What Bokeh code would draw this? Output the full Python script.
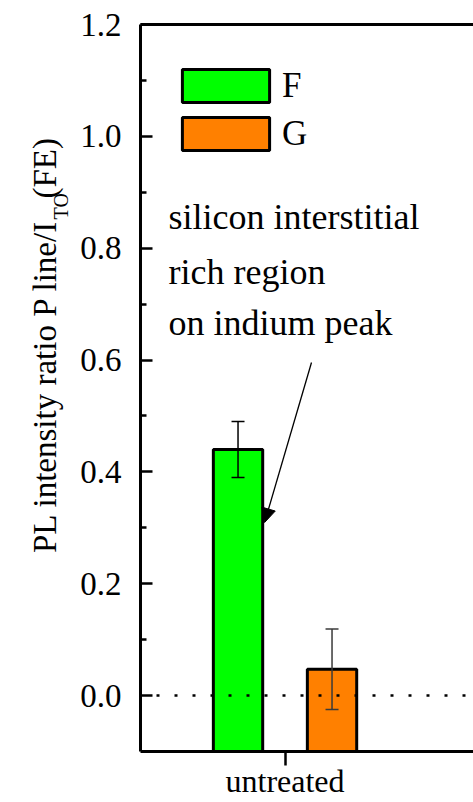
import math
from bokeh.plotting import figure
from bokeh.layouts import row
from bokeh.core.properties import value
from bokeh.models import (Range1d, FixedTicker, LinearAxis, Span, Whisker, TeeHead,
                          Arrow, NormalHead, Legend, LegendItem,
                          ColumnDataSource, PrintfTickFormatter)
from bokeh.embed import file_html
from bokeh.resources import INLINE

# ---- data ---------------------------------------------------------------
categories = ["untreated"]
series_names = ["F", "G"]
f_values = [0.44]
f_errors = [0.05]
g_values = [0.047]
g_errors = [0.072]
y_ticks = [0.0, 0.2, 0.4, 0.6, 0.8, 1.0, 1.2]
y_minor = [0.1, 0.3, 0.5, 0.7, 0.9, 1.1]
note_lines = ["silicon interstitial", "rich region", "on indium peak"]
y_title_parts = ["PL intensity ratio P line/I", "TO", "(FE)"]

# ---- layout -------------------------------------------------------------
FONT = "Liberation Serif, serif"
W, H = 473, 802
TITLE_W = 72
BORDER_LEFT, BORDER_TOP, BORDER_BOTTOM = 140, 24, 51
Y0, Y1 = -0.1, 1.2
X0, X1 = 0.385, 1.802
FRAME_W = W - BORDER_LEFT
FRAME_H = H - BORDER_TOP - BORDER_BOTTOM

cat_pos = [float(i + 1) for i in range(len(categories))]
offset = 0.2
bar_w = 0.21

p = figure(width=W - TITLE_W, height=H, output_backend="svg", toolbar_location=None,
           x_range=Range1d(X0, X1), y_range=Range1d(Y0, Y1),
           min_border_left=BORDER_LEFT - TITLE_W, min_border_right=0,
           min_border_top=BORDER_TOP, min_border_bottom=BORDER_BOTTOM,
           x_axis_location=None, y_axis_location=None)
p.outline_line_color = None
p.background_fill_color = "white"
p.border_fill_color = "white"
for g in p.grid:
    g.visible = False


def data_x(px):
    """canvas x pixel -> data x"""
    return X0 + (px - BORDER_LEFT) * (X1 - X0) / FRAME_W


def data_y(py):
    """canvas y pixel -> data y"""
    return Y0 + (H - BORDER_BOTTOM - py) * (Y1 - Y0) / FRAME_H


def fx(px):
    return px - BORDER_LEFT


def fy(py):
    return (H - BORDER_BOTTOM) - py


# ---- axes ---------------------------------------------------------------
yaxis = LinearAxis(ticker=FixedTicker(ticks=y_ticks, minor_ticks=y_minor),
                   formatter=PrintfTickFormatter(format="%.1f"))
yaxis.axis_line_width = 3
yaxis.major_tick_line_width = 2.5
yaxis.minor_tick_line_width = 2.5
yaxis.major_tick_in = 12
yaxis.major_tick_out = 0
yaxis.minor_tick_in = 6
yaxis.minor_tick_out = 0
yaxis.major_label_standoff = 19
yaxis.major_label_text_font = FONT
yaxis.major_label_text_font_size = "33px"
yaxis.major_label_text_color = "black"
p.add_layout(yaxis, "left")

xaxis = LinearAxis(ticker=FixedTicker(ticks=cat_pos, minor_ticks=[]),
                   major_label_overrides={c: n for c, n in zip(cat_pos, categories)})
xaxis.axis_line_width = 3
xaxis.major_tick_line_width = 2.5
xaxis.major_tick_in = 0
xaxis.major_tick_out = 14
xaxis.minor_tick_line_color = None
xaxis.major_label_standoff = -3
xaxis.major_label_text_font = FONT
xaxis.major_label_text_font_size = "32px"
xaxis.major_label_text_color = "black"
p.add_layout(xaxis, "below")

top_axis = LinearAxis(ticker=FixedTicker(ticks=[], minor_ticks=[]))
top_axis.axis_line_width = 3
top_axis.major_tick_line_color = None
top_axis.minor_tick_line_color = None
top_axis.major_label_text_font_size = "0px"
p.add_layout(top_axis, "above")

# ---- bars ---------------------------------------------------------------
f_src = ColumnDataSource(dict(
    x=[c - offset for c in cat_pos], top=f_values,
    upper=[v + e for v, e in zip(f_values, f_errors)],
    lower=[v - e for v, e in zip(f_values, f_errors)]))
g_src = ColumnDataSource(dict(
    x=[c + offset for c in cat_pos], top=g_values,
    upper=[v + e for v, e in zip(g_values, g_errors)],
    lower=[v - e for v, e in zip(g_values, g_errors)]))

f_bar = p.vbar(x="x", top="top", bottom=Y0, width=bar_w, source=f_src,
               fill_color="#00FF00", line_color="black", line_width=3)
g_bar = p.vbar(x="x", top="top", bottom=Y0, width=bar_w, source=g_src,
               fill_color="#FF8000", line_color="black", line_width=3)

# zero reference line
p.add_layout(Span(location=0, dimension="width", line_color="black",
                  line_width=2.5, line_dash="3 15", line_dash_offset=2))

# error bars
for src, col in ((f_src, "black"), (g_src, "#3a3a3a")):
    p.add_layout(Whisker(
        source=src, base="x", upper="upper", lower="lower",
        line_color=col, line_width=1.5, level="overlay",
        upper_head=TeeHead(size=13, line_color=col, line_width=1.5),
        lower_head=TeeHead(size=13, line_color=col, line_width=1.5)))

# ---- legend (glyph boxes are drawn inset by 10 %) ----------------------
legend = Legend(items=[LegendItem(label=series_names[0], renderers=[f_bar]),
                       LegendItem(label=series_names[1], renderers=[g_bar])],
                location=(fx(171), fy(154)))
legend.glyph_width = 109
legend.glyph_height = 41
legend.label_text_font = FONT
legend.label_text_font_size = "35px"
legend.label_text_color = "black"
legend.label_standoff = 2
legend.label_height = 41
legend.spacing = 7
legend.padding = 0
legend.margin = 0
legend.border_line_color = None
legend.background_fill_alpha = 0
p.add_layout(legend, "center")

# ---- annotation text and arrow -----------------------------------------
NOTE_SIZE = 36
note_src = ColumnDataSource(dict(
    x=[data_x(168)] * len(note_lines),
    y=[data_y(b - 0.34 * NOTE_SIZE) for b in (229, 284, 335)],
    text=note_lines))
p.text(x="x", y="y", text="text", source=note_src, text_font=value(FONT),
       text_font_size=f"{NOTE_SIZE}px", text_color="black",
       text_align="left", text_baseline="alphabetic")

p.add_layout(Arrow(
    end=NormalHead(size=14, fill_color="black", line_color="black", line_width=1),
    x_start=data_x(311), y_start=data_y(362),
    x_end=cat_pos[0] - offset + bar_w / 2 + 0.008, y_end=data_y(522),
    line_color="black", line_width=1.3))

# ---- y-axis title (separate strip so the subscript can be placed) ------
t = figure(width=TITLE_W, height=H, output_backend="svg", toolbar_location=None,
           x_range=Range1d(0, TITLE_W), y_range=Range1d(H, 0),
           min_border=0, x_axis_location=None, y_axis_location=None)
t.outline_line_color = None
t.border_fill_color = "white"
t.background_fill_color = "white"
for g in t.grid:
    g.visible = False

MAIN_SIZE, SUB_SIZE = 33, 20
title_src = ColumnDataSource(dict(
    x=[56 - 0.34 * MAIN_SIZE, 67 - 0.34 * SUB_SIZE, 56 - 0.34 * MAIN_SIZE],
    y=[215, 215, 192],
    text=y_title_parts,
    size=[f"{MAIN_SIZE}px", f"{SUB_SIZE}px", f"{MAIN_SIZE}px"],
    align=["right", "left", "left"]))
t.text(x="x", y="y", text="text", source=title_src, angle=math.pi / 2,
       text_font=value(FONT), text_font_size="size", text_color="black",
       text_align="align", text_baseline="alphabetic")

layout = row(t, p, spacing=0)
open("out.html", "w").write(file_html(layout, INLINE))
